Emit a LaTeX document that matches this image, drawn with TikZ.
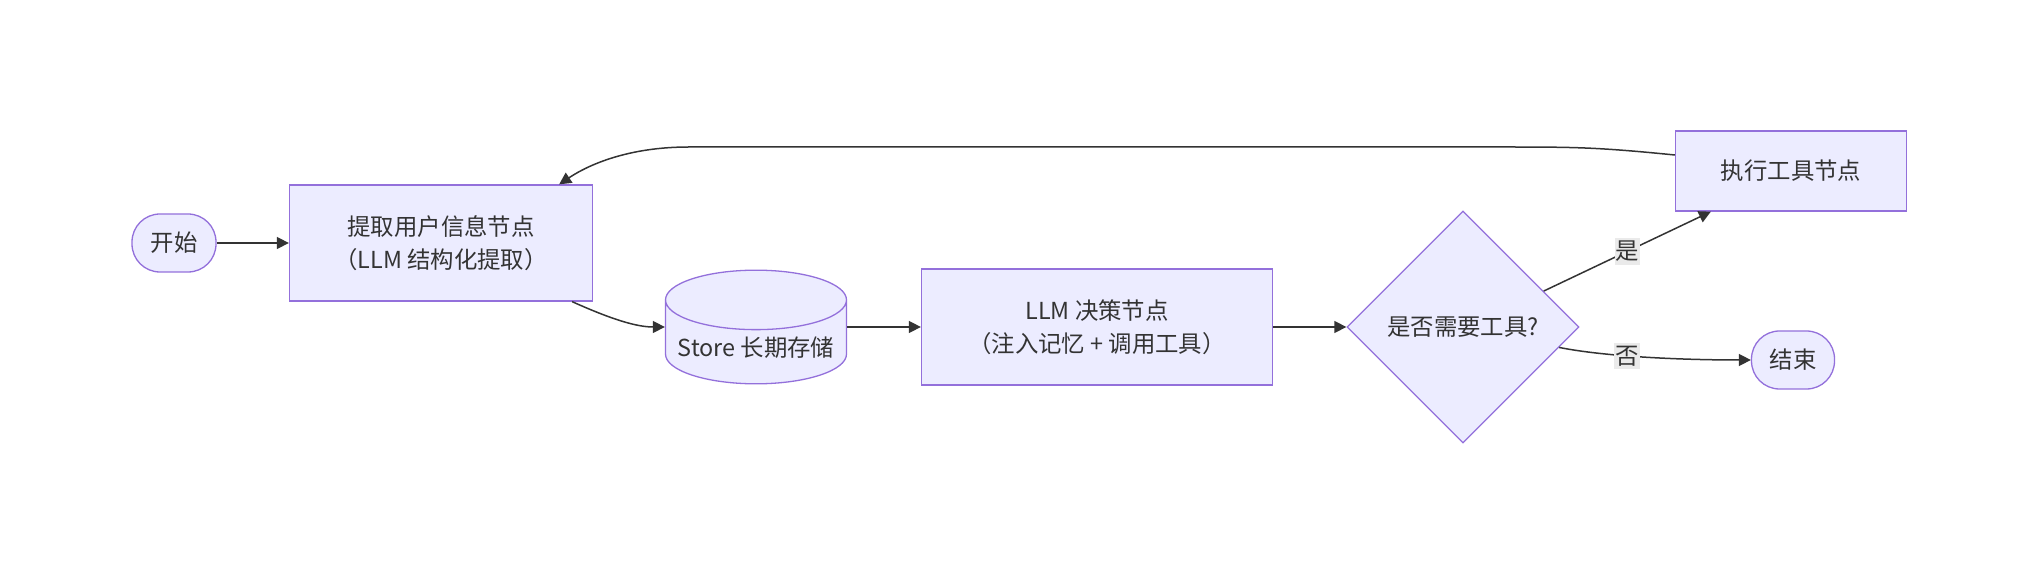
\documentclass[tikz,border=0pt]{standalone}
\usepackage{fontspec}
\setmainfont{Noto Sans CJK SC}
\usetikzlibrary{shapes,arrows.meta}
\definecolor{nodefill}{HTML}{ECECFF}
\definecolor{nodeline}{HTML}{9370DB}
\definecolor{edgeline}{HTML}{333333}
\definecolor{labelfill}{HTML}{EAEAEA}
\tikzstyle{terminal} = [rectangle, draw=nodeline, fill=nodefill, line width=0.65pt,
    rounded corners=14pt, minimum width=42pt, minimum height=29pt]
\tikzstyle{block} = [rectangle, draw=nodeline, fill=nodefill, line width=0.65pt,
    align=center, minimum height=58pt]
\tikzstyle{store} = [cylinder, shape border rotate=90, aspect=0.35, draw=nodeline, fill=nodefill,
    line width=0.65pt, minimum width=90.5pt, minimum height=55pt]
\tikzstyle{decision} = [diamond, draw=nodeline, fill=nodefill, line width=0.65pt,
    aspect=1, inner sep=0pt, minimum width=116pt, minimum height=116pt]
\tikzstyle{line} = [draw=edgeline, line width=0.75pt, -{Triangle[length=6pt,width=6pt]}]
\tikzstyle{edgelabel} = [fill=labelfill, inner xsep=0.5pt, inner ysep=1.5pt]

\begin{document}
\begin{tikzpicture}[x=0.5pt, y=-0.5pt, text=edgeline,
    font=\fontsize{11.7pt}{16.5pt}\selectfont]
    \useasboundingbox (0,0) rectangle (2040,576);
    % Place nodes
    \node [terminal] (start) at (174,243) {开始};
    \node [block, right of=start, node distance=133.5pt, minimum width=151.5pt] (extract) {提取用户信息节点\\（LLM 结构化提取）};
    \node [block, minimum width=175.5pt] (llm) at (1097,327) {LLM 决策节点\\（注入记忆 + 调用工具）};
    \node [store, anchor=shape center] (store) at (756,327) {Store 长期存储};
    \node [decision, right of=llm, node distance=183pt] (decide) {是否需要工具?};
    \node [terminal, right of=decide, node distance=165pt, yshift=-16.5pt, minimum width=41.5pt] (end) {结束};
    \node [block, above of=end, node distance=94.5pt, xshift=-1pt, minimum width=115.5pt, minimum height=40pt] (exec) {执行工具节点};

    % Draw edges
    \path [line] (start) -- (extract);
    \path [line] ([xshift=-10.5pt]extract.south east) .. controls +(20pt,-9pt) and +(-14pt,0pt) .. (store.west |- llm.west);
    \path [line] (store.east |- llm.west) -- (llm);
    \path [line] (llm) -- (decide);
    \path [line] (decide.24) -- node [edgelabel] {是} ([xshift=18pt]exec.south west);
    \path [line] (decide.-12) .. controls +(25pt,-5pt) and +(-30pt,0pt) .. node [edgelabel, pos=0.38] {否} (end.west);
    \path [line] ([yshift=8pt]exec.west) .. controls +(-40pt,4pt) and +(40pt,0pt) .. ++(-90pt,4pt)
        -- ++(-403pt,0pt) .. controls +(-30pt,0pt) and +(15pt,10pt) .. ([xshift=-17pt]extract.north east);
\end{tikzpicture}
\end{document}
